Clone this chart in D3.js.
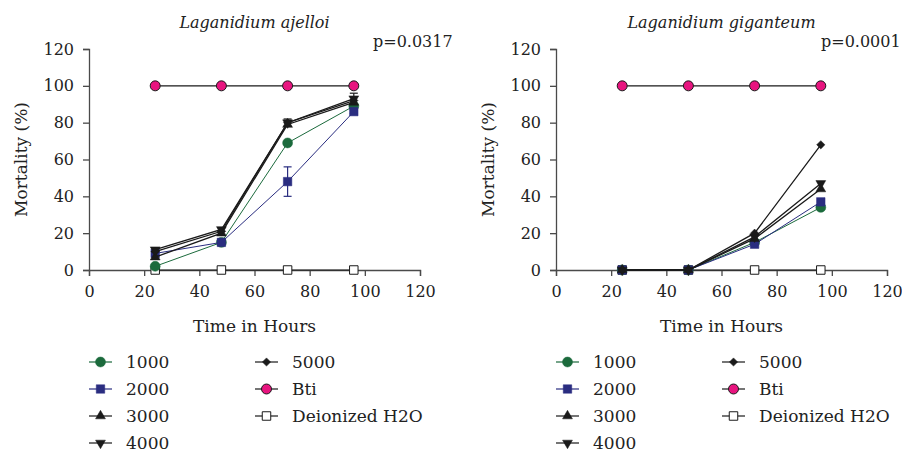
<!DOCTYPE html>
<html>
<head>
<meta charset="utf-8">
<script src="https://cdn.jsdelivr.net/npm/d3@7"></script>
<style>
  body { margin: 0; background: #fff; }
  svg { display: block; }
  svg text { font-family: "DejaVu Serif", serif; }
</style>
</head>
<body>
<svg id="chart" width="902" height="458"></svg>
<script>
var hours = [24, 48, 72, 96];
var seriesNames = ["1000", "2000", "3000", "4000", "5000", "Bti", "Deionized H2O"];
var xTicks = [0, 20, 40, 60, 80, 100, 120];
var yTicks = [0, 20, 40, 60, 80, 100, 120];

// L. ajelloi
var ajelloi1000 = [2, 15, 69, 89];
var ajelloi2000 = [9, 15, 48, 86];
var ajelloi3000 = [7, 20, 79, 91];
var ajelloi4000 = [11, 22, 80, 93];
var ajelloi5000 = [10, 21, 80, 92];
var ajelloiBti = [100, 100, 100, 100];
var ajelloiH2O = [0, 0, 0, 0];
var ajelloiErr2000 = [1, 1, 8, 1];
var ajelloiErr4000 = [1, 1, 2, 3];

// L. giganteum
var giganteum1000 = [0, 0, 15, 34];
var giganteum2000 = [0, 0, 14, 37];
var giganteum3000 = [0, 0, 17, 44];
var giganteum4000 = [0, 0, 18, 47];
var giganteum5000 = [0, 0, 20, 68];
var giganteumBti = [100, 100, 100, 100];
var giganteumH2O = [0, 0, 0, 0];

var styles = {
    "1000": { color: "#1b6a3c", fill: "#1b6a3c", shape: "circle", width: 1 },
    "2000": { color: "#2a2d80", fill: "#2a2d80", shape: "square", width: 1 },
    "3000": { color: "#1a1a1a", fill: "#1a1a1a", shape: "triUp", width: 1.3 },
    "4000": { color: "#1a1a1a", fill: "#1a1a1a", shape: "triDown", width: 1.3 },
    "5000": { color: "#1a1a1a", fill: "#1a1a1a", shape: "diamond", width: 1.3 },
    "Bti": { color: "#1a1a1a", fill: "#e8147f", shape: "circle", width: 1.2 },
    "Deionized H2O": { color: "#1a1a1a", fill: "#fff", shape: "openSquare", width: 1 }
};

var panels = [
    {
        title: "Laganidium ajelloi", p: "p=0.0317", left: 89, pX: 373,
        series: [ajelloiH2O, ajelloi1000, ajelloi2000, ajelloi3000, ajelloi4000, ajelloi5000, ajelloiBti],
        names: ["Deionized H2O", "1000", "2000", "3000", "4000", "5000", "Bti"],
        errors: { "2000": ajelloiErr2000, "4000": ajelloiErr4000 }
    },
    {
        title: "Laganidium giganteum", p: "p=0.0001", left: 556, pX: 821,
        series: [giganteumH2O, giganteum1000, giganteum2000, giganteum3000, giganteum4000, giganteum5000, giganteumBti],
        names: ["Deionized H2O", "1000", "2000", "3000", "4000", "5000", "Bti"],
        errors: {}
    }
];

var svg = d3.select("#chart");
var axisColor = "#4a4a4a";
var fs = 16, labelFs = 17;

function symbolPath(shape) {
    switch (shape) {
        case "circle": return d3.symbol(d3.symbolCircle, 78)();
        case "square": return d3.symbol(d3.symbolSquare, 72)();
        case "openSquare": return d3.symbol(d3.symbolSquare, 72)();
        case "triUp": return d3.symbol(d3.symbolTriangle, 42)();
        case "triDown": return d3.symbol(d3.symbolTriangle, 42)();
        case "diamond": return d3.symbol(d3.symbolSquare, 34)();
    }
}

function drawMarker(g, shape, st) {
    var m = g.append("path")
        .attr("d", symbolPath(shape))
        .attr("fill", st.fill)
        .attr("stroke", st.fill === "#e8147f" || shape === "openSquare" ? "#1a1a1a" : st.fill)
        .attr("stroke-width", shape === "openSquare" || st.fill === "#e8147f" ? 1 : 0.5);
    if (shape === "triDown") m.attr("transform", "rotate(180)");
    if (shape === "diamond") m.attr("transform", "rotate(45)");
    return m;
}

panels.forEach(function(panel) {
    var x = d3.scaleLinear().domain([0, 120]).range([panel.left, panel.left + 331]);
    var y = d3.scaleLinear().domain([0, 120]).range([270, 49]);
    var g = svg.append("g");

    var yAxis = g.append("g")
        .attr("transform", "translate(" + panel.left + ",0)")
        .call(d3.axisLeft(y).tickValues(yTicks).tickSize(6).tickPadding(9));
    var xAxis = g.append("g")
        .attr("transform", "translate(0,270)")
        .call(d3.axisBottom(x).tickValues(xTicks).tickSize(6).tickPadding(10));
    [xAxis, yAxis].forEach(function(a) {
        a.attr("font-family", null);
        a.select(".domain").attr("stroke", axisColor).attr("stroke-width", 1.3);
        a.selectAll(".tick line").attr("stroke", axisColor).attr("stroke-width", 1.3);
        a.selectAll(".tick text").attr("fill", "#222").attr("font-size", fs);
    });

    g.append("text")
        .attr("x", x(60)).attr("y", 28)
        .attr("text-anchor", "middle")
        .attr("font-style", "italic").attr("font-size", fs)
        .attr("fill", "#222")
        .text(panel.title);
    g.append("text")
        .attr("x", panel.pX).attr("y", 47)
        .attr("font-size", fs)
        .attr("fill", "#222")
        .text(panel.p);
    g.append("text")
        .attr("transform", "translate(" + (panel.left - 62) + "," + y(60) + ") rotate(-90)")
        .attr("text-anchor", "middle")
        .attr("font-size", labelFs)
        .attr("fill", "#222")
        .text("Mortality (%)");
    g.append("text")
        .attr("x", x(60)).attr("y", 332)
        .attr("text-anchor", "middle")
        .attr("font-size", labelFs)
        .attr("fill", "#222")
        .text("Time in Hours");

    var line = d3.line().x(function(d, i) { return x(hours[i]); }).y(function(d) { return y(d); });

    panel.series.forEach(function(vals, si) {
        var name = panel.names[si];
        var st = styles[name];
        var sg = g.append("g");
        sg.append("path")
            .datum(vals)
            .attr("d", line)
            .attr("fill", "none")
            .attr("stroke", st.color)
            .attr("stroke-width", st.width);
        var err = panel.errors[name];
        if (err) {
            vals.forEach(function(v, i) {
                var cx = x(hours[i]);
                var e = sg.append("g").attr("stroke", st.color).attr("stroke-width", 1.2);
                e.append("line").attr("x1", cx).attr("x2", cx).attr("y1", y(v - err[i])).attr("y2", y(v + err[i]));
                e.append("line").attr("x1", cx - 4).attr("x2", cx + 4).attr("y1", y(v - err[i])).attr("y2", y(v - err[i]));
                e.append("line").attr("x1", cx - 4).attr("x2", cx + 4).attr("y1", y(v + err[i])).attr("y2", y(v + err[i]));
            });
        }
        vals.forEach(function(v, i) {
            var mg = sg.append("g").attr("transform", "translate(" + x(hours[i]) + "," + y(v) + ")");
            drawMarker(mg, st.shape, st);
        });
    });

    // legend
    var legendCols = [panel.left, panel.left + 166];
    var rowY = [368, 395, 422, 449];
    seriesNames.forEach(function(name, i) {
        var col = i < 4 ? 0 : 1;
        var row = i < 4 ? i : i - 4;
        var st = styles[name];
        var lx = legendCols[col];
        var ly = rowY[row] - 6;
        var lg = g.append("g");
        lg.append("line")
            .attr("x1", lx).attr("x2", lx + 23)
            .attr("y1", ly).attr("y2", ly)
            .attr("stroke", st.color).attr("stroke-width", 1.2);
        var mg = lg.append("g").attr("transform", "translate(" + (lx + 11.5) + "," + ly + ")");
        drawMarker(mg, st.shape, st);
        lg.append("text")
            .attr("x", lx + 37).attr("y", rowY[row])
            .attr("font-size", labelFs)
            .attr("fill", "#222")
            .text(name);
    });
});
</script>
</body>
</html>
